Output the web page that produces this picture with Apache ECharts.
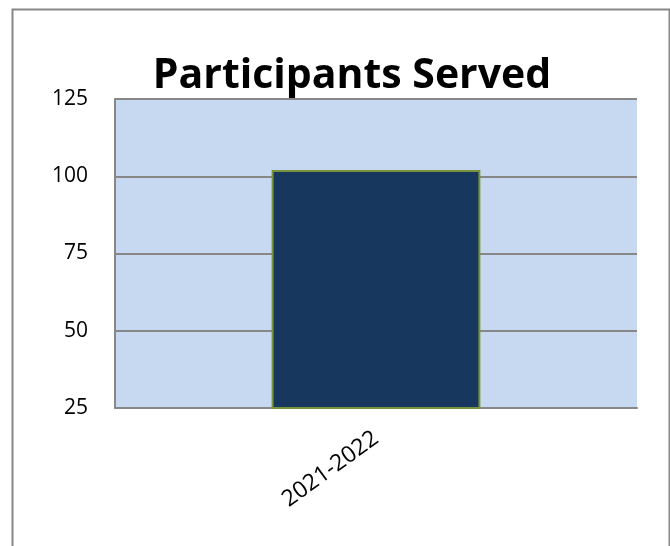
<!DOCTYPE html>
<html><head><meta charset="utf-8">
<script src="https://cdn.jsdelivr.net/npm/echarts@6/dist/echarts.min.js"></script>
<style>html,body{margin:0;padding:0;background:#fff}#c{width:670px;height:546px}</style>
</head><body><div id="c"></div>
<script>
const categories = ["2021-2022"];
const participants = [102];
const yTicks = [25, 50, 75, 100, 125];

const chart = echarts.init(document.getElementById('c'));
chart.setOption({
  animation: false,
  backgroundColor: '#ffffff',
  graphic: [{
    type: 'rect', left: 10, top: 7,
    shape: { width: 657, height: 560 },
    style: { fill: 'none', stroke: '#878787', lineWidth: 2 }
  }],
  title: {
    text: 'Participants Served', left: 347, top: 51, textAlign: 'center',
    textStyle: { fontFamily: 'Open Sans', fontWeight: 'bold', fontSize: 41, color: '#000' }
  },
  grid: { left: 115, right: 33, top: 99, bottom: 138, show: true, backgroundColor: '#C6D9F1', borderWidth: 0 },
  xAxis: {
    type: 'category', data: categories,
    axisLine: { lineStyle: { color: '#878787', width: 2 } },
    axisTick: { show: false },
    axisLabel: { rotate: 36, margin: 28, fontFamily: 'Open Sans', fontSize: 23, color: '#000' }
  },
  yAxis: {
    type: 'value', min: yTicks[0], max: yTicks[yTicks.length - 1], interval: 25,
    axisLine: { show: true, lineStyle: { color: '#878787', width: 2 } },
    axisTick: { show: false },
    splitLine: { lineStyle: { color: '#878787', width: 2 } },
    axisLabel: { margin: 27, fontFamily: 'Open Sans', fontSize: 21, color: '#000' }
  },
  series: [{
    type: 'bar', data: participants, barWidth: '40%',
    itemStyle: { color: '#17375E', borderColor: '#77933C', borderWidth: 2 }
  }]
});
</script></body></html>
